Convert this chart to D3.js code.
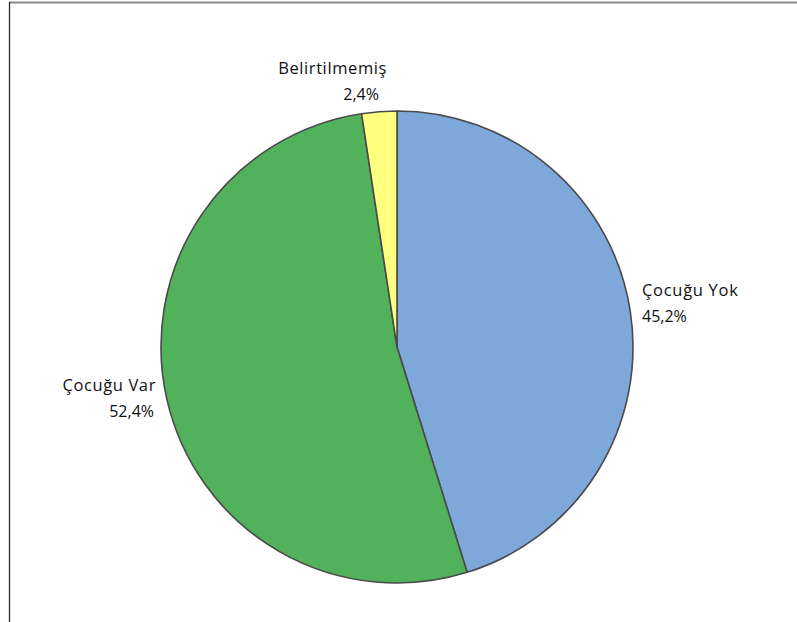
<!DOCTYPE html>
<html>
<head>
<meta charset="utf-8">
<script src="https://cdn.jsdelivr.net/npm/d3@7"></script>
<style>
  html, body { margin: 0; padding: 0; background: #fff; }
  svg { display: block; }
</style>
</head>
<body>
<script>
// Household status breakdown (share of respondents)
const categories = ["Çocuğu Yok", "Çocuğu Var", "Belirtilmemiş"];
const shares = [45.2, 52.4, 2.4];
const valueLabels = ["45,2%", "52,4%", "2,4%"];
const colors = ["#7EA7DA", "#52B15B", "#FFFF80"];

const W = 797, H = 622;
const cx = 397, cy = 347, R = 236;

const svg = d3.select("body").append("svg")
  .attr("width", W).attr("height", H);

// chart frame (top and left edges fall inside the window)
svg.append("line").attr("x1", 9).attr("x2", W).attr("y1", 2.5).attr("y2", 2.5)
  .attr("stroke", "#8a8a8a").attr("stroke-width", 2);
svg.append("line").attr("x1", 9.5).attr("x2", 9.5).attr("y1", 2).attr("y2", H)
  .attr("stroke", "#2a2a2a").attr("stroke-width", 1.3);

const pie = d3.pie().sort(null).value(d => d.value)
  .startAngle(0).endAngle(2 * Math.PI);
const data = categories.map((c, i) => ({ name: c, value: shares[i], label: valueLabels[i], color: colors[i] }));
const arcs = pie(data);

const arc = d3.arc().innerRadius(0).outerRadius(R);

const g = svg.append("g").attr("transform", `translate(${cx},${cy})`);
g.selectAll("path").data(arcs).join("path")
  .attr("d", arc)
  .attr("fill", d => d.data.color)
  .attr("stroke", "#4a4a4a")
  .attr("stroke-width", 1.6)
  .attr("stroke-linejoin", "round");

// data labels: category name over value, placed outside each slice
const font = "'Open Sans', 'Noto Sans', sans-serif";
const labelPos = [
  { anchor: "start", x: 642, y: 296, vx: 642 },
  { anchor: "end", x: 156, y: 391, vx: 154 },
  { anchor: "end", x: 387, y: 74, vx: 379 }
];
arcs.forEach((a, i) => {
  const p = labelPos[i];
  const t = svg.append("text")
    .attr("font-family", font)
    .attr("fill", "#111")
    .attr("text-anchor", p.anchor);
  t.append("tspan").attr("x", p.x).attr("y", p.y)
    .attr("font-size", 16.5).attr("letter-spacing", p.anchor === "end" ? 0.6 : 0.7)
    .text(a.data.name);
  t.append("tspan").attr("x", p.vx).attr("y", p.y + 25.5)
    .attr("font-size", 16)
    .text(a.data.label);
});
</script>
</body>
</html>
